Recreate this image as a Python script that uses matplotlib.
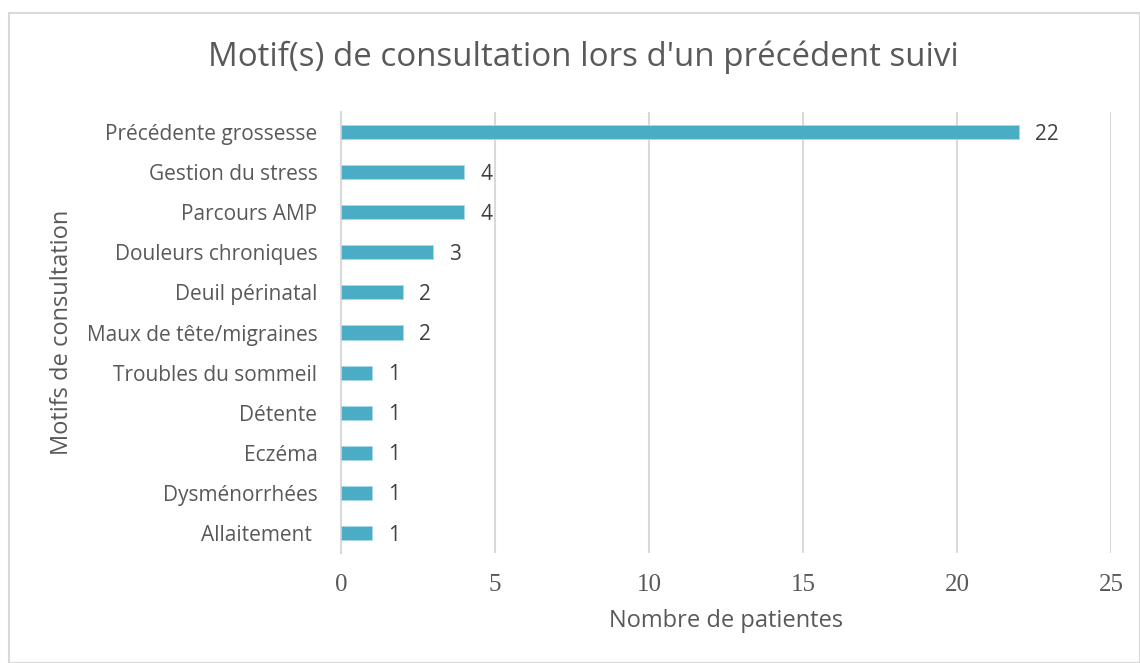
import matplotlib
matplotlib.use("Agg")
import matplotlib.pyplot as plt
from matplotlib.patches import Rectangle

categories = ["Précédente grossesse", "Gestion du stress", "Parcours AMP", "Douleurs chroniques",
              "Deuil périnatal", "Maux de tête/migraines", "Troubles du sommeil", "Détente",
              "Eczéma", "Dysménorrhées", "Allaitement "]
values = [22, 4, 4, 3, 2, 2, 1, 1, 1, 1, 1]
xticks = [0, 5, 10, 15, 20, 25]

title = "Motif(s) de consultation lors d'un précédent suivi"
xlabel = "Nombre de patientes"
ylabel = "Motifs de consultation"

TXT = "#595959"
BAR = "#4BACC6"
GRID = "#D9D9D9"
SANS = ["Open Sans", "DejaVu Sans"]
SERIF = ["Liberation Serif", "DejaVu Serif"]

fig = plt.figure(figsize=(11.4, 6.63), dpi=100)
W, H = 1140, 663
ax = fig.add_axes([341 / W, 1 - 553 / H, (1111 - 341) / W, (553 - 112) / H])

pos = list(range(len(categories)))
ax.barh(pos, values, height=0.35, color=BAR, edgecolor="#A9D8E6", linewidth=0.6, zorder=3)
ax.set_ylim(len(categories) - 0.5, -0.5)
ax.set_xlim(0, 25)
ax.set_yticks(pos)
ax.set_yticklabels(categories, family=SANS, fontsize=15, color=TXT)
ax.set_xticks(xticks)
ax.set_xticklabels([str(t) for t in xticks], family=SERIF, fontsize=18, color=TXT)
ax.tick_params(axis="both", length=0)
ax.tick_params(axis="y", pad=17)
ax.tick_params(axis="x", pad=15)
ax.grid(axis="x", color=GRID, linewidth=1.5, zorder=0)
for s in ["top", "right", "bottom"]:
    ax.spines[s].set_visible(False)
ax.spines["left"].set_color(GRID)
ax.spines["left"].set_linewidth(1.5)

for p, v in zip(pos, values):
    ax.annotate(str(v), (v, p), xytext=(11.5, -1.5), textcoords="offset points",
                va="center", ha="left", family=SANS, fontsize=15, color="#404040")

fig.text(583 / W, 1 - 57 / H, title, ha="center", va="center", family=SANS, fontsize=23.8, color=TXT)
fig.text(726 / W, 1 - 621 / H, xlabel, ha="center", va="center", family=SANS, fontsize=17, color=TXT)
fig.text(62 / W, 1 - 332 / H, ylabel, ha="center", va="center", rotation=90, family=SANS, fontsize=17, color=TXT)

fig.patches.append(Rectangle((9 / W, 0.5 / H), (W - 9.5) / W, (H - 13.5) / H, transform=fig.transFigure,
                             fill=False, edgecolor="#D9D9D9", linewidth=1.5))

fig.savefig("out.png", dpi=100, facecolor="white")
